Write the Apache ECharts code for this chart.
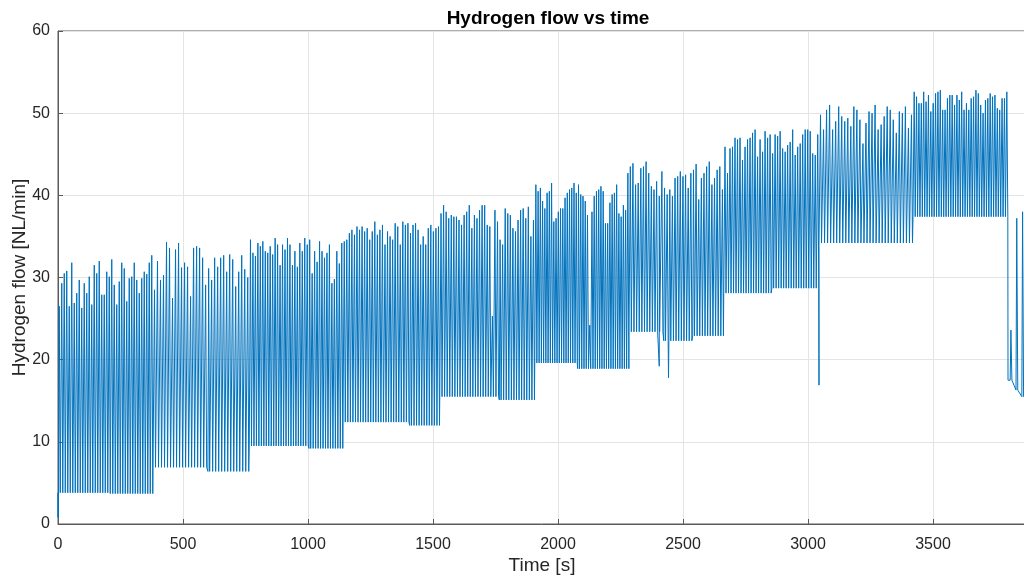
<!DOCTYPE html>
<html>
<head>
<meta charset="utf-8">
<title>Hydrogen flow vs time</title>
<script src="https://cdn.jsdelivr.net/npm/echarts@6/dist/echarts.min.js"></script>
<style>
  html, body { margin: 0; padding: 0; background: #ffffff; }
  #chart { width: 1024px; height: 577px; }
</style>
</head>
<body>
<div id="chart"></div>
<script>
// Baseline flow (NL/min) between purge pulses, piecewise constant from each time (s)
const baseTimes  = [0, 200, 380, 600, 765, 1000, 1140, 1400, 1527, 1760, 1907, 2074, 2284, 2420, 2540, 2663, 2850, 3044, 3420, 3800, 3822, 3845];
const baseValues = [3.8, 3.7, 6.9, 6.4, 9.5, 9.2, 12.4, 12.0, 15.5, 15.1, 19.6, 18.9, 23.4, 22.3, 22.9, 28.1, 28.7, 34.2, 37.4, 17.5, 16.3, 15.5];

// Pulse groups: time window (s) and the peak flow of every pulse in it
const groupStart = [0, 380, 765, 1140, 1527, 1907, 2284, 2663, 3044, 3420, 3800];
const groupEnd   = [380, 765, 1140, 1527, 1907, 2284, 2663, 3044, 3420, 3800, 3870];

const peaks1 = [26.5, 29.3, 30.5, 30.8, 26.5, 31.8, 26.9, 28.1, 29.7, 26.3, 29.3, 28.1, 30.1, 26.7, 31.5, 30.5, 32.0, 27.9, 27.9, 30.7,
                30.1, 32.2, 29.1, 26.7, 29.5, 31.8, 31.1, 27.1, 29.9, 30.1, 31.8, 29.7, 28.1, 29.9, 30.7, 30.4, 31.8, 32.7];
const peaks2 = [28.5, 32.0, 29.7, 30.3, 34.3, 33.6, 27.5, 33.4, 34.2, 31.2, 31.8, 31.3, 27.7, 33.6, 33.8, 33.6, 32.4, 29.1, 31.1, 29.7,
                32.4, 31.3, 32.4, 32.7, 30.7, 32.8, 32.2, 28.9, 30.7, 32.7, 31.0, 30.0];
const peaks3 = [34.6, 33.0, 32.6, 34.2, 33.8, 34.4, 33.2, 33.0, 33.8, 32.8, 34.8, 34.0, 31.5, 34.0, 33.4, 34.8, 34.0, 31.5, 33.2, 31.3,
                34.2, 33.2, 34.8, 34.0, 34.6, 30.5, 33.2, 31.9, 34.4, 33.2, 32.4, 33.0, 34.0, 29.3, 29.8, 33.2, 31.7, 34.2];
const peaks4 = [34.4, 34.6, 35.4, 35.8, 35.2, 36.2, 35.8, 36.2, 35.6, 36.0, 34.6, 35.6, 36.8, 35.2, 35.8, 36.4, 34.0, 35.6, 35.0, 34.6,
                36.6, 36.2, 34.0, 36.8, 36.4, 36.6, 35.4, 36.4, 36.6, 35.8, 34.0, 35.0, 34.0, 36.0, 36.4, 35.6, 36.0, 36.2];
const peaks5 = [37.8, 38.8, 38.0, 37.2, 37.6, 37.4, 37.4, 37.0, 36.4, 37.6, 38.0, 38.8, 36.0, 37.6, 37.2, 38.2, 38.8, 38.8, 36.4, 36.2,
                25.3, 38.2, 36.8, 34.6, 34.0, 38.4, 37.8, 37.6, 36.0, 35.6, 37.0, 38.2, 38.4, 37.2, 38.6, 35.0, 37.0];
const peaks6 = [41.3, 40.5, 40.9, 39.3, 38.4, 40.3, 40.5, 41.5, 36.8, 37.2, 38.0, 38.4, 38.4, 39.7, 40.3, 40.7, 40.9, 41.5, 40.3, 41.3,
                40.1, 39.9, 39.3, 37.6, 24.2, 38.0, 39.9, 40.5, 40.7, 41.1, 40.5, 36.6, 36.6, 39.1, 40.1, 40.3, 41.3, 37.8, 37.4, 38.8,
                38.2, 42.7];
const peaks7 = [43.5, 43.9, 41.3, 41.5, 43.3, 43.5, 44.1, 42.7, 41.1, 40.7, 41.7, 39.9, 42.9, 40.9, 40.1, 40.7, 39.9, 42.1, 42.3, 42.9,
                42.3, 42.5, 40.9, 42.7, 43.1, 43.8, 39.5, 42.1, 42.7, 43.5, 44.1, 41.3, 42.1, 43.1, 43.5, 40.7];
const peaks8 = [45.9, 42.7, 45.7, 45.9, 47.0, 46.8, 47.0, 44.3, 45.9, 46.8, 47.0, 47.6, 48.0, 44.7, 46.8, 45.3, 47.8, 47.0, 47.4, 45.1,
                47.4, 47.2, 47.8, 45.7, 45.3, 46.1, 46.5, 48.0, 44.9, 45.9, 46.3, 47.4, 48.0, 48.0, 47.8, 45.1, 44.9, 47.4];
const peaks9 = [49.8, 48.0, 50.4, 51.0, 48.0, 49.0, 50.8, 49.6, 49.0, 49.4, 48.4, 50.8, 50.4, 49.2, 46.3, 48.8, 50.2, 50.0, 51.0, 48.0,
                48.6, 49.6, 50.8, 50.4, 49.2, 47.6, 50.2, 50.0, 50.8, 48.2, 49.8];
const peaks10 = [52.6, 52.0, 51.2, 51.2, 52.6, 51.4, 52.2, 50.2, 51.2, 52.4, 52.6, 52.8, 50.4, 50.4, 51.8, 52.2, 52.2, 51.0, 52.2, 51.6,
                 52.6, 50.4, 51.2, 50.4, 51.8, 52.0, 52.8, 52.4, 51.0, 50.0, 51.6, 51.8, 52.4, 52.0, 52.2, 50.6, 50.4, 51.8, 51.8, 52.6];
const peaks11 = [23.6, 37.2, 38.0];
const groupPeaks = [peaks1, peaks2, peaks3, peaks4, peaks5, peaks6, peaks7, peaks8, peaks9, peaks10, peaks11];

// Short downward excursions of the flow (s, NL/min)
const dipTimes  = [1, 2405, 2442, 3044];
const dipValues = [0.8, 19.2, 17.8, 16.9];

// Axis ticks
const xTicks = { min: 0, max: 3872, step: 500 };
const yTicks = { min: 0, max: 60, step: 10 };

function baseAt(t) {
  let v = baseValues[0];
  for (let i = 0; i < baseTimes.length; i++) {
    if (t >= baseTimes[i]) v = baseValues[i];
  }
  return v;
}

// Assemble the time series: each pulse rises from the baseline and falls back
const pts = [];
groupPeaks.forEach((pk, g) => {
  const span = (groupEnd[g] - groupStart[g]) / pk.length;
  pts.push([groupStart[g] + 0.01, baseAt(groupStart[g] + 0.01)]);
  pk.forEach((p, i) => {
    const t = groupStart[g] + (i + 0.5) * span;
    pts.push([t - 3, baseAt(t)]);
    pts.push([t, p]);
    pts.push([t + 4, baseAt(t)]);
  });
  pts.push([groupEnd[g] - 0.01, baseAt(groupEnd[g] - 0.01)]);
});
dipTimes.forEach((t, i) => {
  pts.push([t - 1, baseAt(t - 1)]);
  pts.push([t, dipValues[i]]);
  pts.push([t + 1.5, baseAt(t + 1.5)]);
});
pts.sort((a, b) => a[0] - b[0]);
pts.unshift([0, dipValues[0]]);

const axisColor = '#5a5a5a';
const textColor = '#262626';
const fontFamily = '"Liberation Sans", Arial, Helvetica, sans-serif';

const chart = echarts.init(document.getElementById('chart'), null, { renderer: 'canvas' });
chart.setOption({
  animation: false,
  backgroundColor: '#ffffff',
  title: {
    text: 'Hydrogen flow vs time',
    left: 543,
    top: 4,
    textAlign: 'center',
    textStyle: { fontFamily, fontSize: 19, fontWeight: 'bold', color: '#000000' }
  },
  grid: {
    left: 58, right: -2, top: 31, bottom: 53,
    outerBoundsMode: 'none',
    containLabel: false,
    show: true, borderColor: axisColor, borderWidth: 1, backgroundColor: '#ffffff'
  },
  xAxis: {
    type: 'value',
    min: xTicks.min, max: xTicks.max, interval: xTicks.step,
    name: 'Time [s]',
    nameLocation: 'middle',
    nameGap: 32,
    nameMoveOverlap: false,
    nameTextStyle: { fontFamily, fontSize: 19, color: textColor },
    axisLine: { show: true, lineStyle: { color: axisColor, width: 1 } },
    axisTick: { show: true, inside: true, length: 5, lineStyle: { color: axisColor } },
    axisLabel: { fontFamily, fontSize: 16, color: textColor, margin: 13, showMaxLabel: false,
                 formatter: v => String(v) },
    splitLine: { show: true, lineStyle: { color: '#e4e4e4', width: 1 } }
  },
  yAxis: {
    type: 'value',
    min: yTicks.min, max: yTicks.max, interval: yTicks.step,
    name: 'Hydrogen flow [NL/min]',
    nameLocation: 'middle',
    nameGap: 29,
    nameRotate: 90,
    nameMoveOverlap: false,
    nameTextStyle: { fontFamily, fontSize: 19, color: textColor },
    axisLine: { show: true, lineStyle: { color: axisColor, width: 1 } },
    axisTick: { show: true, inside: true, length: 5, lineStyle: { color: axisColor } },
    axisLabel: { fontFamily, fontSize: 16, color: textColor, margin: 8, formatter: v => String(v) },
    splitLine: { show: true, lineStyle: { color: '#e4e4e4', width: 1 } }
  },
  series: [{
    type: 'line',
    data: pts,
    showSymbol: false,
    symbol: 'none',
    clip: true,
    lineStyle: { color: '#0072BD', width: 1 },
    silent: true
  }]
});
</script>
</body>
</html>
